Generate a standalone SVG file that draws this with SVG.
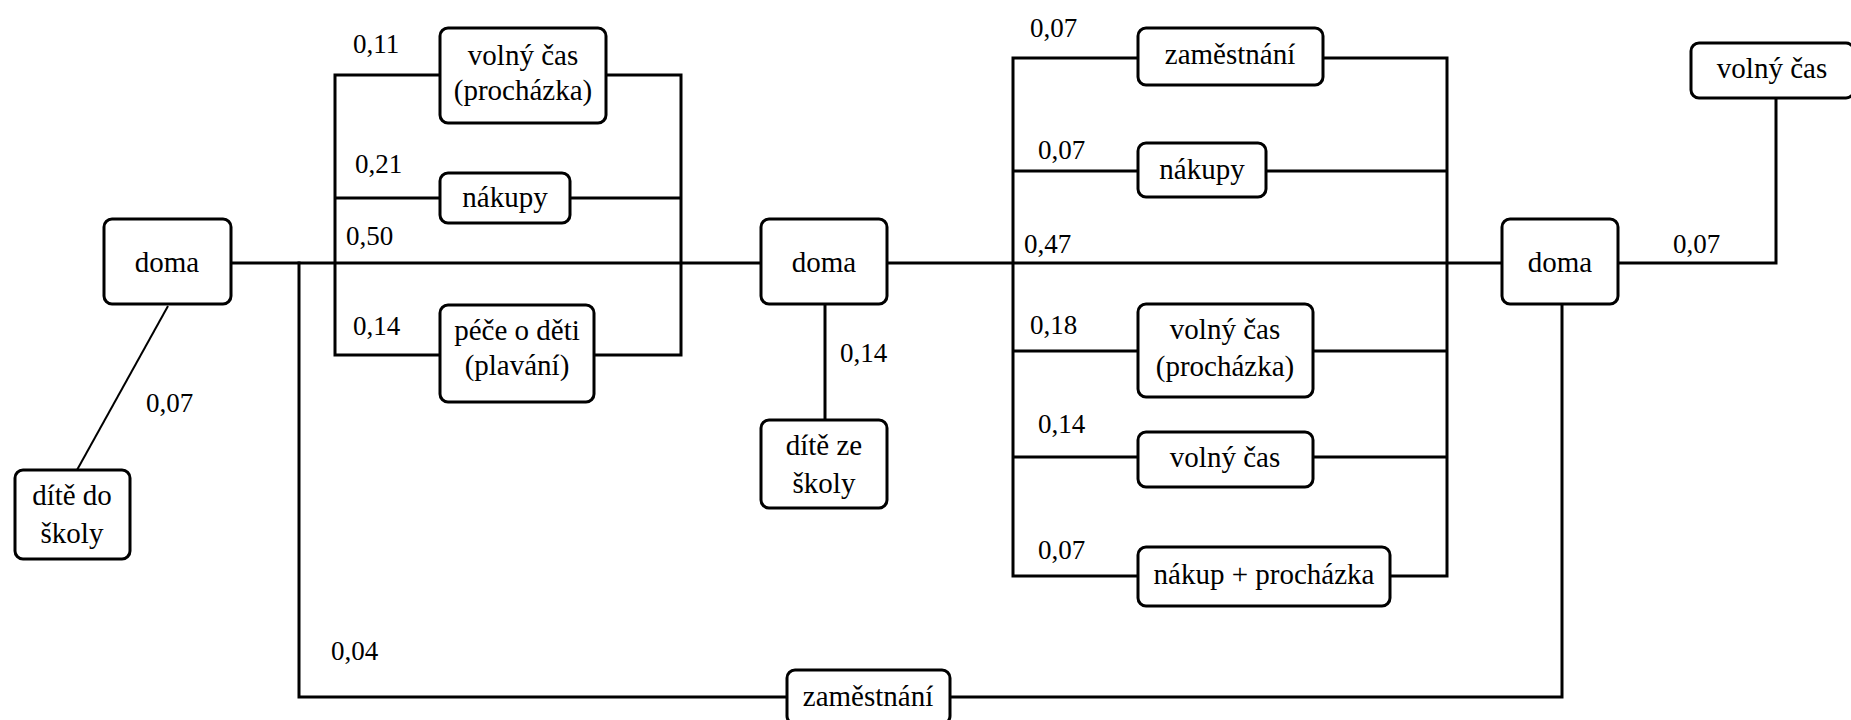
<svg xmlns="http://www.w3.org/2000/svg" width="1851" height="720" viewBox="0 0 1851 720" font-family="Liberation Serif, Times New Roman, serif">
<style>
.node rect{fill:#fff;stroke:#000;stroke-width:3}
.node text{font-size:29px;fill:#000;text-anchor:middle}
.lbl{font-size:27px;fill:#000}
.conn{fill:none;stroke:#000;stroke-width:3;stroke-linecap:square}
.thin{fill:none;stroke:#000;stroke-width:2}
</style>
<rect width="1851" height="720" fill="#fff"/>
<g id="connectors">
<path class="conn" d="M231,263 H761 M887,263 H1502"/>
<path class="conn" d="M335,75 V355 M335,75 H440 M335,198 H440 M335,355 H440 M606,75 H681 M570,198 H681 M594,355 H681 M681,75 V355"/>
<path class="conn" d="M299,263 V697 H787 M950,697 H1562 V304"/>
<path class="conn" d="M825,304 V420"/>
<path class="thin" d="M168,306 L77,470"/>
<path class="conn" d="M1013,58 V576 M1013,58 H1138 M1013,171 H1138 M1013,351 H1138 M1013,457 H1138 M1013,576 H1138 M1323,58 H1447 M1266,171 H1447 M1313,351 H1447 M1313,457 H1447 M1390,576 H1447 M1447,58 V576"/>
<path class="conn" d="M1618,263 H1776 V98"/>
</g>
<g id="labels" font-family="Liberation Serif, serif">
<text class="lbl" x="353" y="53">0,11</text>
<text class="lbl" x="355" y="173">0,21</text>
<text class="lbl" x="346" y="245">0,50</text>
<text class="lbl" x="353" y="335">0,14</text>
<text class="lbl" x="146" y="412">0,07</text>
<text class="lbl" x="331" y="660">0,04</text>
<text class="lbl" x="840" y="362">0,14</text>
<text class="lbl" x="1030" y="37">0,07</text>
<text class="lbl" x="1038" y="159">0,07</text>
<text class="lbl" x="1024" y="253">0,47</text>
<text class="lbl" x="1030" y="334">0,18</text>
<text class="lbl" x="1038" y="433">0,14</text>
<text class="lbl" x="1038" y="559">0,07</text>
<text class="lbl" x="1673" y="253">0,07</text>
</g>
<g id="doma1" class="node"><rect x="104" y="219" width="127" height="85" rx="8"/><text x="167" y="272">doma</text></g>
<g id="dite-do-skoly" class="node"><rect x="15" y="470" width="115" height="89" rx="8"/><text x="72" y="505">dítě do</text><text x="72" y="543">školy</text></g>
<g id="volny-cas-prochazka1" class="node"><rect x="440" y="28" width="166" height="95" rx="8"/><text x="523" y="65">volný čas</text><text x="523" y="100">(procházka)</text></g>
<g id="nakupy1" class="node"><rect x="440" y="173" width="130" height="50" rx="8"/><text x="505" y="207">nákupy</text></g>
<g id="pece-o-deti" class="node"><rect x="440" y="305" width="154" height="97" rx="8"/><text x="517" y="340">péče o děti</text><text x="517" y="375">(plavání)</text></g>
<g id="doma2" class="node"><rect x="761" y="219" width="126" height="85" rx="8"/><text x="824" y="272">doma</text></g>
<g id="dite-ze-skoly" class="node"><rect x="761" y="420" width="126" height="88" rx="8"/><text x="824" y="455">dítě ze</text><text x="824" y="493">školy</text></g>
<g id="zamestnani1" class="node"><rect x="1138" y="28" width="185" height="57" rx="8"/><text x="1230" y="64">zaměstnání</text></g>
<g id="nakupy2" class="node"><rect x="1138" y="143" width="128" height="54" rx="8"/><text x="1202" y="179">nákupy</text></g>
<g id="volny-cas-prochazka2" class="node"><rect x="1138" y="304" width="175" height="93" rx="8"/><text x="1225" y="339">volný čas</text><text x="1225" y="376">(procházka)</text></g>
<g id="volny-cas2" class="node"><rect x="1138" y="432" width="175" height="55" rx="8"/><text x="1225" y="467">volný čas</text></g>
<g id="nakup-prochazka" class="node"><rect x="1138" y="547" width="252" height="59" rx="8"/><text x="1264" y="584">nákup + procházka</text></g>
<g id="doma3" class="node"><rect x="1502" y="219" width="116" height="85" rx="8"/><text x="1560" y="272">doma</text></g>
<g id="volny-cas3" class="node"><rect x="1691" y="43" width="163" height="55" rx="8"/><text x="1772" y="78">volný čas</text></g>
<g id="zamestnani2" class="node"><rect x="787" y="670" width="163" height="54" rx="8"/><text x="868" y="706">zaměstnání</text></g>
</svg>
